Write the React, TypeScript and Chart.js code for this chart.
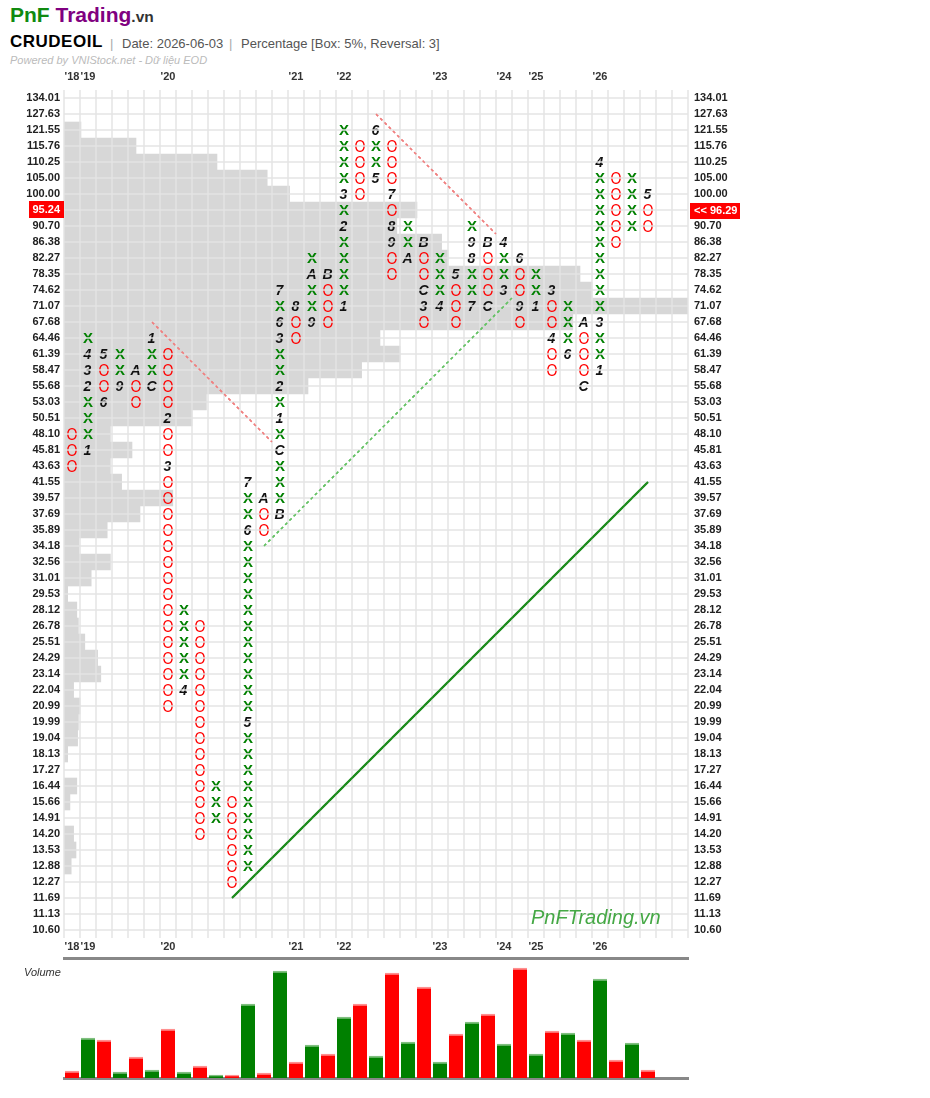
import React, { useEffect, useRef } from 'react';
import { Chart, registerables } from 'chart.js';

Chart.register(...registerables);

const FONT = '"Liberation Sans", Arial, Helvetica, sans-serif';

// Price level of each box row (top to bottom), used as tick labels
const priceLevels = [
  134.01, 127.63, 121.55, 115.76, 110.25, 105.0, 100.0, 95.24, 90.7, 86.38,
  82.27, 78.35, 74.62, 71.07, 67.68, 64.46, 61.39, 58.47, 55.68, 53.03,
  50.51, 48.1, 45.81, 43.63, 41.55, 39.57, 37.69, 35.89, 34.18, 32.56,
  31.01, 29.53, 28.12, 26.78, 25.51, 24.29, 23.14, 22.04, 20.99, 19.99,
  19.04, 18.13, 17.27, 16.44, 15.66, 14.91, 14.2, 13.53, 12.88, 12.27,
  11.69, 11.13, 10.6,
];

// Point & figure columns
const columnTypes = [
  'O', 'X', 'O', 'X', 'O', 'X', 'O', 'X', 'O', 'X', 'O', 'X', 'O', 'X', 'O', 'X', 'O', 'X', 'O',
  'X', 'O', 'X', 'O', 'X', 'O', 'X', 'O', 'X', 'O', 'X', 'O', 'X', 'O', 'X', 'O', 'X', 'O',
];
const columnHigh = [
  48.1, 64.46, 61.39, 61.39, 58.47, 64.46, 61.39, 28.12, 26.78, 16.44, 15.66, 41.55, 39.57,
  74.62, 71.07, 82.27, 78.35, 121.55, 115.76, 121.55, 115.76, 90.7, 86.38, 82.27, 78.35,
  90.7, 86.38, 86.38, 82.27, 78.35, 74.62, 71.07, 67.68, 110.25, 105.0, 105.0, 100.0,
];
const columnLow = [
  43.63, 45.81, 53.03, 55.68, 53.03, 55.68, 20.99, 22.04, 14.2, 14.91, 12.27, 12.88, 35.89,
  37.69, 64.46, 67.68, 67.68, 71.07, 100.0, 105.0, 78.35, 82.27, 67.68, 71.07, 67.68,
  71.07, 71.07, 74.62, 67.68, 71.07, 58.47, 61.39, 55.68, 58.47, 86.38, 90.7, 90.7,
];

// Month markers (1-9, A, B, C) replacing a box
const monthCols = [
  1, 1, 1, 1, 2, 2, 3, 4, 5, 5, 6, 6, 7, 11, 11, 11, 12,
  13, 13, 13, 13, 13, 13, 13, 14, 15, 15, 16, 17, 17, 17,
  19, 19, 20, 20, 20, 21, 22, 22, 22, 23, 24, 25, 25, 25,
  26, 26, 27, 27, 28, 28, 29, 30, 30, 31, 32, 32, 33, 33, 33, 36,
];
const monthPrices = [
  45.81, 55.68, 58.47, 61.39, 61.39, 53.03, 55.68, 58.47, 55.68, 64.46, 50.51, 43.63, 22.04, 19.99, 35.89, 41.55, 39.57,
  37.69, 45.81, 50.51, 55.68, 64.46, 67.68, 74.62, 71.07, 67.68, 78.35, 78.35, 71.07, 90.7, 100.0,
  105.0, 121.55, 100.0, 90.7, 86.38, 82.27, 86.38, 74.62, 71.07, 71.07, 78.35, 71.07, 82.27, 86.38,
  86.38, 71.07, 74.62, 86.38, 82.27, 71.07, 71.07, 74.62, 64.46, 61.39, 67.68, 55.68, 58.47, 67.68, 110.25, 100.0,
];
const monthLabels = [
  '1', '2', '3', '4', '5', '6', '9', 'A', 'C', '1', '2', '3', '4', '5', '6', '7', 'A',
  'B', 'C', '1', '2', '3', '6', '7', '8', '9', 'A', 'B', '1', '2', '3',
  '5', '6', '7', '8', '9', 'A', 'B', 'C', '3', '4', '5', '7', '8', '9',
  'B', 'C', '3', '4', '6', '9', '1', '3', '4', '6', 'A', 'C', '1', '3', '4', '5',
];

// Price profile (horizontal shading) per price level, in column units
const profileWidths = [
  0, 0, 1.06, 4.5, 9.56, 12.7, 14.1, 22.06, 20.8, 23.6,
  24.0, 32.25, 33.0, 39, 31.8, 19.75, 21, 18.6, 15.25, 8.9,
  8, 2.9, 4.25, 2.9, 3.6, 6.8, 4.75, 2.7, 0.94, 2.9,
  1.7, 0.23, 0.8, 0.9, 1.3, 2.1, 2.3, 0.6, 1.0, 0.9,
  0.85, 0.23, 0, 0.8, 0.37, 0, 0.6, 0.75, 0.45, 0,
  0, 0, 0,
];

// Volume per column
const volumeValues = [
  7, 40, 38, 6, 21, 8, 49, 6, 12, 3, 3, 74, 5, 107, 16, 33, 24, 61, 74,
  22, 105, 36, 91, 16, 44, 56, 64, 34, 110, 24, 47, 45, 38, 99, 18, 35, 8,
];

// Year labels on the column axis
const yearCols = [0, 1, 6, 14, 17, 23, 27, 29, 33];
const yearLabels = ["'18", "'19", "'20", "'21", "'22", "'23", "'24", "'25", "'26"];

// Trend lines (45 degree P&F lines)
const trendStartCols = [5, 19, 12, 10];
const trendStartPrices = [67.68, 127.63, 34.18, 11.69];
const trendLengths = [7.5, 7.5, 15.5, 26];
const trendDirections = [-1, -1, 1, 1];

const lastBoxPrice = 95.24;
const lastTradePrice = 96.29;

const NCOLS = 39;
const GRID = 'rgba(227,227,227,0.72)';

const rowOf = (p: number) => priceLevels.indexOf(p);
const boundaries = (n: number) => Array.from({ length: n + 1 }, (_, i) => ({ value: i - 0.5 }));

function makeGlyph(text: string, font: string, color: string, bx: number, by: number, sx = 1) {
  const c = document.createElement('canvas');
  c.width = 20;
  c.height = 20;
  const g = c.getContext('2d')!;
  g.font = font;
  g.fillStyle = color;
  g.textAlign = 'center';
  g.textBaseline = 'alphabetic';
  g.translate(bx, by);
  g.scale(sx, 1);
  g.fillText(text, 0, 0);
  return c;
}

function App() {
  const mainRef = useRef<HTMLCanvasElement>(null);
  const volRef = useRef<HTMLCanvasElement>(null);

  useEffect(() => {
    Chart.defaults.font.family = FONT;

    const xGlyph = makeGlyph('X', `bold 15px ${FONT}`, '#008000', 10, 15.4);
    const oGlyph = makeGlyph('O', `16px ${FONT}`, '#ff0000', 10, 15.8, 0.88);
    const monthGlyphs: Record<string, HTMLCanvasElement> = {};
    monthLabels.forEach((m) => {
      if (!monthGlyphs[m]) monthGlyphs[m] = makeGlyph(m, `italic bold 14px ${FONT}`, '#111', 9.5, 15);
    });

    const markMap = new Map<string, string>();
    monthCols.forEach((c, i) => markMap.set(c + '|' + rowOf(monthPrices[i]), monthLabels[i]));

    const xPts: any[] = [];
    const oPts: any[] = [];
    const mPts: any[] = [];
    columnTypes.forEach((t, c) => {
      for (let r = rowOf(columnHigh[c]); r <= rowOf(columnLow[c]); r++) {
        const m = markMap.get(c + '|' + r);
        if (m) mPts.push({ x: c, y: r, g: m });
        else (t === 'X' ? xPts : oPts).push({ x: c, y: r });
      }
    });

    const trendColors = ['#f08080', '#f08080', '#66c266', '#1e8c1e'];
    const trendDash = [[3, 3], [3, 3], [3, 3], []];
    const trendWidths = [1.5, 1.5, 1.5, 2];
    const trendSets = trendStartCols.map((sc, i) => {
      const sr = rowOf(trendStartPrices[i]);
      const len = trendLengths[i];
      return {
        type: 'line',
        data: [
          { x: sc, y: sr },
          { x: sc + len, y: sr - trendDirections[i] * len },
        ],
        borderColor: trendColors[i],
        borderDash: trendDash[i],
        borderWidth: trendWidths[i],
        pointRadius: 0,
        fill: false,
        order: 5,
      };
    });

    const profileData = profileWidths
      .map((w, r) => ({ x: [-0.5, -0.5 + w], y: r, w }))
      .filter((d) => d.w > 0);

    const tickFont = { family: FONT, size: 11, weight: 'bold' as const };
    const priceLabel = (v: any) => {
      const r = Math.round(Number(v) + 0.5);
      return r >= 0 && r < priceLevels.length ? priceLevels[r].toFixed(2) : '';
    };
    const yearLabel = (v: any) => {
      const c = Math.round(Number(v) + 0.5);
      const i = yearCols.indexOf(c);
      return i >= 0 ? yearLabels[i] : '';
    };

    const overlay = {
      id: 'overlay',
      afterDraw(chart: any) {
        const ctx = chart.ctx;
        const area = chart.chartArea;
        // trend lines are redrawn above the grid layer
        ctx.save();
        ctx.beginPath();
        ctx.rect(area.left, area.top, area.right - area.left, area.bottom - area.top);
        ctx.clip();
        chart.data.datasets.forEach((ds: any, i: number) => {
          if (ds.type === 'line') chart.getDatasetMeta(i).controller.draw();
        });
        ctx.restore();

        const y = chart.scales.y.getPixelForValue(rowOf(lastBoxPrice));
        ctx.save();
        ctx.fillStyle = '#ff0000';
        ctx.fillRect(area.left - 35, Math.round(y - 9), 35, 17);
        ctx.fillRect(area.right + 2, Math.round(y - 7), 50, 16);
        ctx.fillStyle = '#ffffff';
        ctx.font = `bold 11px ${FONT}`;
        ctx.textBaseline = 'middle';
        ctx.textAlign = 'right';
        ctx.fillText(lastBoxPrice.toFixed(2), area.left - 4, y - 0.5);
        ctx.textAlign = 'left';
        ctx.fillText('<< ' + lastTradePrice.toFixed(2), area.right + 6, y + 1);
        ctx.restore();
      },
    };

    const main = new Chart(mainRef.current!, {
      type: 'scatter',
      data: {
        datasets: [
          { data: xPts, pointStyle: xGlyph, pointRadius: 8, order: 0 } as any,
          { data: oPts, pointStyle: oGlyph, pointRadius: 8, order: 0 } as any,
          {
            data: mPts,
            pointStyle: (ctx: any) => monthGlyphs[ctx.raw ? ctx.raw.g : '1'],
            pointRadius: 8,
            order: 0,
          } as any,
          ...(trendSets as any[]),
          {
            type: 'bar',
            indexAxis: 'y',
            data: profileData,
            backgroundColor: '#d7d7d7',
            borderWidth: 0,
            barThickness: 16,
            order: 10,
          } as any,
        ],
      },
      options: {
        responsive: false,
        devicePixelRatio: 1,
        animation: false,
        events: [],
        layout: { padding: 0 },
        plugins: { legend: { display: false }, tooltip: { enabled: false } },
        scales: {
          x: {
            type: 'linear',
            position: 'bottom',
            min: -0.5,
            max: NCOLS - 0.5,
            offset: false,
            afterBuildTicks: (s: any) => { s.ticks = boundaries(NCOLS); },
            afterFit: (s: any) => { s.height = 22; },
            ticks: {
              autoSkip: false, maxRotation: 0, minRotation: 0, labelOffset: 8, padding: 2,
              font: tickFont, color: '#333', callback: yearLabel,
            },
            grid: { color: GRID, lineWidth: 2, drawTicks: false, z: 1 },
            border: { display: false },
          },
          x2: {
            type: 'linear',
            position: 'top',
            min: -0.5,
            max: NCOLS - 0.5,
            offset: false,
            afterBuildTicks: (s: any) => { s.ticks = boundaries(NCOLS); },
            afterFit: (s: any) => { s.height = 30; },
            ticks: {
              autoSkip: false, maxRotation: 0, minRotation: 0, labelOffset: 8, padding: 6,
              font: tickFont, color: '#333', callback: yearLabel,
            },
            grid: { display: false, drawTicks: false },
            border: { display: false },
          },
          y: {
            type: 'linear',
            position: 'left',
            reverse: true,
            min: -0.5,
            max: priceLevels.length - 0.5,
            offset: false,
            afterBuildTicks: (s: any) => { s.ticks = boundaries(priceLevels.length); },
            afterFit: (s: any) => { s.width = 64; },
            ticks: {
              autoSkip: false, labelOffset: 8, padding: 4,
              font: tickFont, color: '#222', callback: priceLabel,
            },
            grid: { color: GRID, lineWidth: 2, drawTicks: false, z: 1 },
            border: { display: false },
          },
          y2: {
            type: 'linear',
            position: 'right',
            reverse: true,
            min: -0.5,
            max: priceLevels.length - 0.5,
            offset: false,
            afterBuildTicks: (s: any) => { s.ticks = boundaries(priceLevels.length); },
            afterFit: (s: any) => { s.width = 72; },
            ticks: {
              autoSkip: false, labelOffset: 8, padding: 6,
              font: tickFont, color: '#222', callback: priceLabel,
            },
            grid: { display: false, drawTicks: false },
            border: { display: false },
          },
        },
      } as any,
      plugins: [overlay],
    });

    const greenBar = '#008000';
    const redBar = '#ff0000';
    const vol = new Chart(volRef.current!, {
      type: 'bar',
      data: {
        datasets: [
          {
            data: volumeValues.map((v, i) => ({ x: i, y: v })),
            backgroundColor: columnTypes.map((t) => (t === 'X' ? greenBar : redBar)),
            borderColor: columnTypes.map((t) => (t === 'X' ? '#80c080' : '#ff9090')),
            borderWidth: { top: 2, left: 0, right: 0, bottom: 0 },
            borderSkipped: false,
            barThickness: 14,
          } as any,
        ],
      },
      options: {
        responsive: false,
        devicePixelRatio: 1,
        animation: false,
        events: [],
        layout: { padding: { top: 8, right: 72, left: 0, bottom: 0 } },
        plugins: { legend: { display: false }, tooltip: { enabled: false } },
        scales: {
          x: {
            type: 'linear',
            position: 'bottom',
            min: -0.5,
            max: NCOLS - 0.5,
            offset: false,
            afterFit: (s: any) => { s.height = 12; },
            ticks: { display: false },
            grid: { display: false, drawTicks: false },
            border: { display: true, color: '#888', width: 3 },
          },
          xt: {
            type: 'linear',
            position: 'top',
            min: -0.5,
            max: NCOLS - 0.5,
            offset: false,
            afterFit: (s: any) => { s.height = 0; },
            ticks: { display: false },
            grid: { display: false, drawTicks: false },
            border: { display: true, color: '#888', width: 3 },
          },
          y: {
            type: 'linear',
            position: 'left',
            min: 0,
            max: 120,
            afterFit: (s: any) => { s.width = 64; },
            ticks: { display: false },
            grid: { display: false, drawTicks: false },
            border: { display: false },
          },
        },
      } as any,
    });

    return () => {
      main.destroy();
      vol.destroy();
    };
  }, []);

  const abs = (left: number, top: number, extra: any = {}) => ({
    position: 'absolute' as const,
    left,
    top,
    whiteSpace: 'nowrap' as const,
    ...extra,
  });

  return (
    <div style={{ position: 'absolute', left: 0, top: 0, width: 930, height: 1098, background: '#fff', fontFamily: FONT }}>
      <div style={abs(10, 3.9, { fontSize: 21, lineHeight: '21px', fontWeight: 'bold' })}>
        <span style={{ color: '#108a10' }}>PnF</span>{' '}
        <span style={{ color: '#800080' }}>Trading</span>
        <span style={{ fontSize: 15.5, color: '#333' }}>.vn</span>
      </div>
      <div style={abs(10, 33.3, { fontSize: 17, lineHeight: '17px', fontWeight: 'bold', color: '#000', letterSpacing: '0.5px' })}>CRUDEOIL</div>
      <div style={abs(110, 36.7, { fontSize: 13, lineHeight: '13px', color: '#aaa' })}>|</div>
      <div style={abs(122, 36.7, { fontSize: 13, lineHeight: '13px', color: '#555' })}>Date: 2026-06-03</div>
      <div style={abs(229, 36.7, { fontSize: 13, lineHeight: '13px', color: '#aaa' })}>|</div>
      <div style={abs(241, 36.7, { fontSize: 13, lineHeight: '13px', color: '#555' })}>Percentage [Box: 5%, Reversal: 3]</div>
      <div style={abs(10, 55.2, { fontSize: 11, lineHeight: '11px', fontStyle: 'italic', color: '#bbb' })}>
        Powered by VNIStock.net - Dữ liệu EOD
      </div>
      <canvas ref={mainRef} width={760} height={900} style={{ position: 'absolute', left: 0, top: 60, width: 760, height: 900 }} />
      <div style={abs(531, 907, { fontSize: 20, lineHeight: '20px', fontStyle: 'italic', color: '#45a845' })}>PnFTrading.vn</div>
      <canvas ref={volRef} width={760} height={140} style={{ position: 'absolute', left: 0, top: 950, width: 760, height: 140 }} />
      <div style={abs(24, 966.7, { fontSize: 11, lineHeight: '11px', fontStyle: 'italic', color: '#333' })}>Volume</div>
    </div>
  );
}

export default App;
